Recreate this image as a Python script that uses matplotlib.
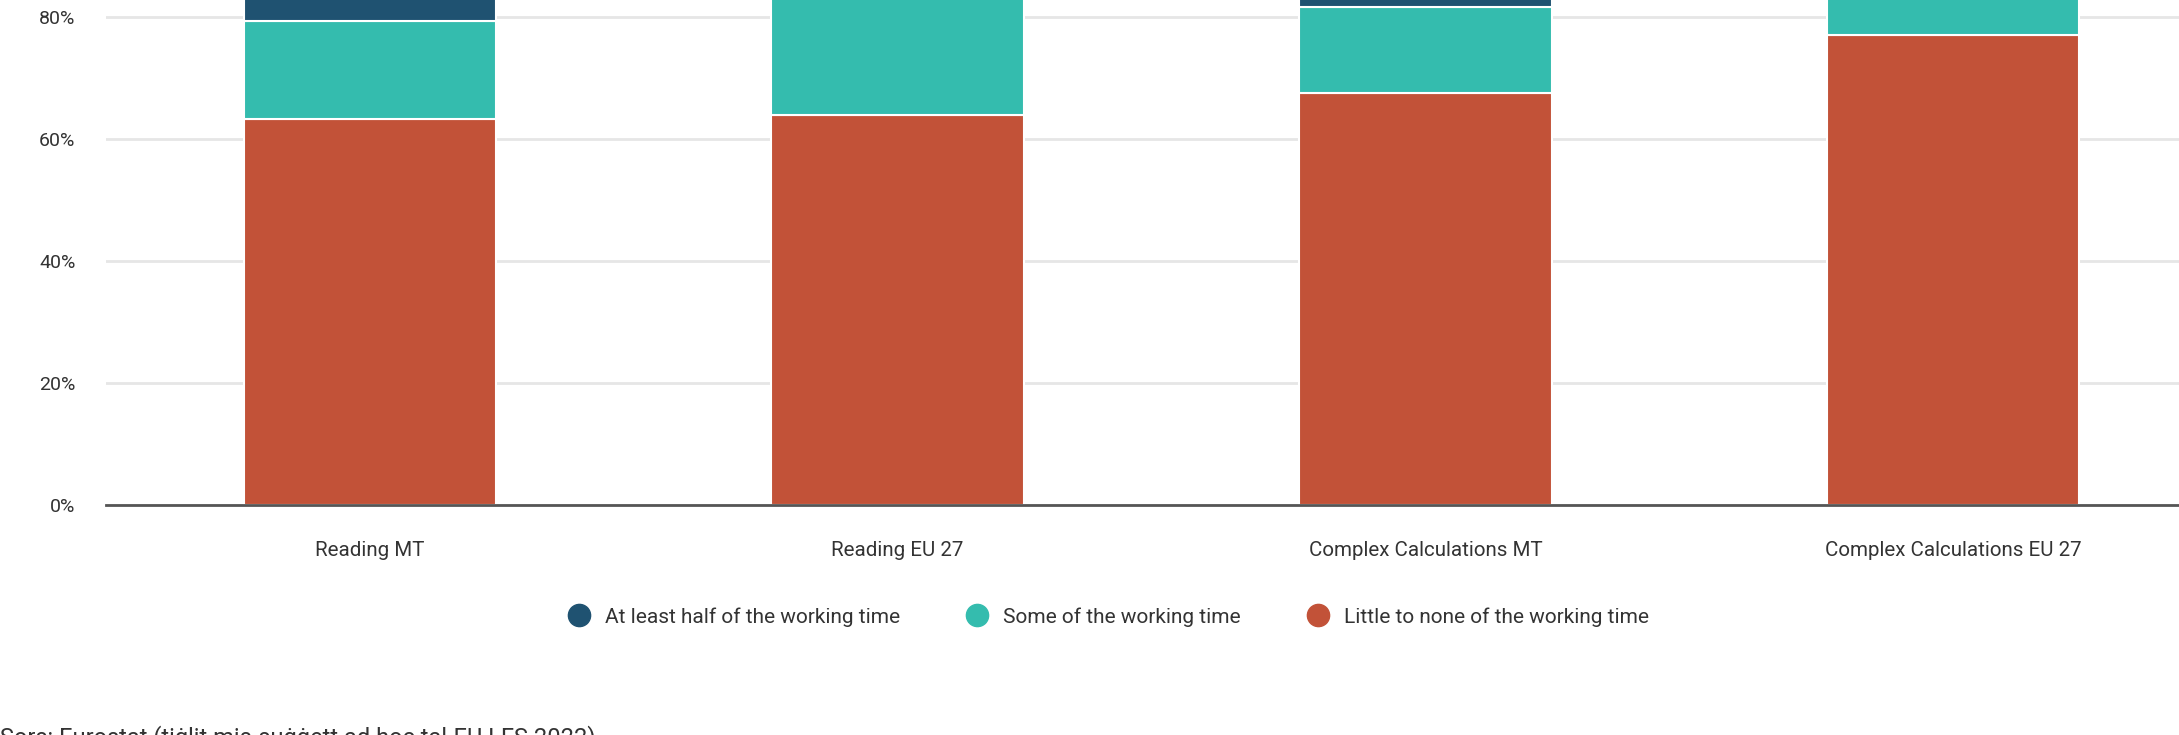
import matplotlib
matplotlib.use("Agg")
import matplotlib.pyplot as plt
from matplotlib.lines import Line2D
import numpy as np

categories = ["Reading MT", "Reading EU 27", "Complex Calculations MT", "Complex Calculations EU 27"]
series_names = ["At least half of the working time", "Some of the working time", "Little to none of the working time"]
little = [63.2, 63.9, 67.5, 77.0]
some = [16.1, 26.0, 14.1, 15.0]
at_least_half = [20.7, 10.1, 18.4, 8.0]
y_ticks = [0, 20, 40, 60, 80, 100]
y_tick_labels = ["0%", "20%", "40%", "60%", "80%", "100%"]
source = "Sors: Eurostat (tiġlit mis-suġġett ad hoc tal-EU LFS 2022)"

colors = {"half": "#1f5271", "some": "#34bcae", "little": "#c25238"}

plt.rcParams['font.family'] = ['Roboto', 'DejaVu Sans']

W, H = 2179, 735
fig = plt.figure(figsize=(W / 100, H / 100), dpi=100)
ax = fig.add_axes([106 / W, 1 - 505 / H, 2111 / W, 610.5 / H])

x = np.arange(len(categories))
bw = 0.478
ax.bar(x, little, bw, color=colors["little"], edgecolor="white", linewidth=1.5, zorder=3)
ax.bar(x, some, bw, bottom=little, color=colors["some"], edgecolor="white", linewidth=1.5, zorder=3)
b2 = np.array(little) + np.array(some)
ax.bar(x, at_least_half, bw, bottom=b2, color=colors["half"], edgecolor="white", linewidth=1.5, zorder=3)

ax.set_xlim(-0.5, 3.5)
ax.set_ylim(0, 100)
ax.set_yticks(y_ticks)
ax.set_yticklabels(y_tick_labels)
ax.set_xticks(x)
ax.set_xticklabels(categories)
ax.tick_params(axis='y', length=0, pad=22, labelsize=14, labelcolor="#333333")
ax.tick_params(axis='x', length=0, pad=26, labelsize=14.8, labelcolor="#333333")
for s in ["top", "right", "left"]:
    ax.spines[s].set_visible(False)
ax.spines["bottom"].set_color("#555555")
ax.spines["bottom"].set_linewidth(2)
ax.spines["bottom"].set_zorder(4)
ax.yaxis.grid(True, color="#e6e6e6", linewidth=2, zorder=0)
ax.set_axisbelow(True)

handles = [Line2D([0], [0], marker='o', linestyle='none', markersize=16,
                  markerfacecolor=c, markeredgecolor=c)
           for c in [colors["half"], colors["some"], colors["little"]]]
fig.legend(handles, series_names, loc="center", bbox_to_anchor=(1109 / W, 1 - 617 / H),
           ncol=3, frameon=False, fontsize=15, handletextpad=0.75, columnspacing=3.2,
           handlelength=1.0, labelcolor="#333333")

fig.text(0, 1 - 725 / H, source, ha="left", va="top", fontsize=17, color="#333333")

fig.savefig("out.png", dpi=100)
